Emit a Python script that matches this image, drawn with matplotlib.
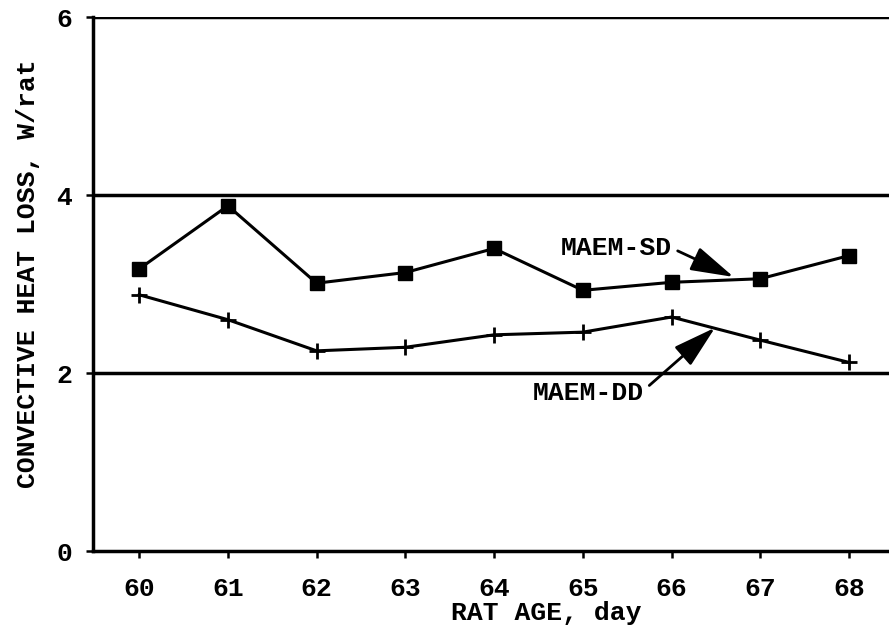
import matplotlib
matplotlib.use("Agg")
import matplotlib.pyplot as plt

# Data
age = [60, 61, 62, 63, 64, 65, 66, 67, 68]
maem_sd = [3.17, 3.88, 3.01, 3.13, 3.40, 2.93, 3.02, 3.06, 3.32]
maem_dd = [2.88, 2.60, 2.25, 2.29, 2.43, 2.46, 2.63, 2.37, 2.12]
y_ticks = [0, 2, 4, 6]

plt.rcParams['font.family'] = ['Liberation Mono', 'DejaVu Sans Mono']
plt.rcParams['font.weight'] = 'bold'

fig = plt.figure(figsize=(8.89, 6.32), dpi=100)
ax = fig.add_axes([0.1046, 0.128, 0.8954, 0.845])

# Horizontal reference lines
for yv in y_ticks[1:]:
    ax.axhline(yv, color='black', lw=2.5, zorder=1)

ax.plot(age, maem_sd, color='black', lw=2.2, marker='s', markersize=10, zorder=3)
ax.plot(age, maem_dd, color='black', lw=2.2, marker='+', markersize=11,
        markeredgewidth=2, zorder=3)

ax.set_xlim(59.48, 68.45)
ax.set_ylim(0, 6)
ax.set_xticks(age)
ax.set_yticks(y_ticks)

for s in ['top', 'right']:
    ax.spines[s].set_visible(False)
for s in ['left', 'bottom']:
    ax.spines[s].set_linewidth(2.5)

ax.tick_params(axis='both', direction='out', length=5, width=1.8,
               labelsize=19)
ax.tick_params(axis='x', pad=14)
ax.tick_params(axis='y', pad=10)
for lab in ax.get_xticklabels() + ax.get_yticklabels():
    lab.set_fontweight('bold')

ax.set_xlabel('RAT AGE, day', fontsize=19, fontweight='bold', labelpad=0,
              x=0.57)
ax.set_ylabel('CONVECTIVE HEAT LOSS, W/rat', fontsize=19, fontweight='bold',
              labelpad=12, y=0.52)

arrow = dict(arrowstyle='-|>,head_length=1.4,head_width=0.4', color='black',
             lw=2, shrinkA=0, shrinkB=0)
ax.annotate('MAEM-SD', xy=(66.70, 3.08), xytext=(65.38, 3.40),
            fontsize=19, fontweight='bold', ha='center', va='center',
            arrowprops=dict(arrow, relpos=(1.05, 0.4)))
ax.annotate('MAEM-DD', xy=(66.49, 2.51), xytext=(65.06, 1.78),
            fontsize=19, fontweight='bold', ha='center', va='center',
            arrowprops=dict(arrow, relpos=(1.05, 0.8)))

fig.savefig('out.png', dpi=100)
